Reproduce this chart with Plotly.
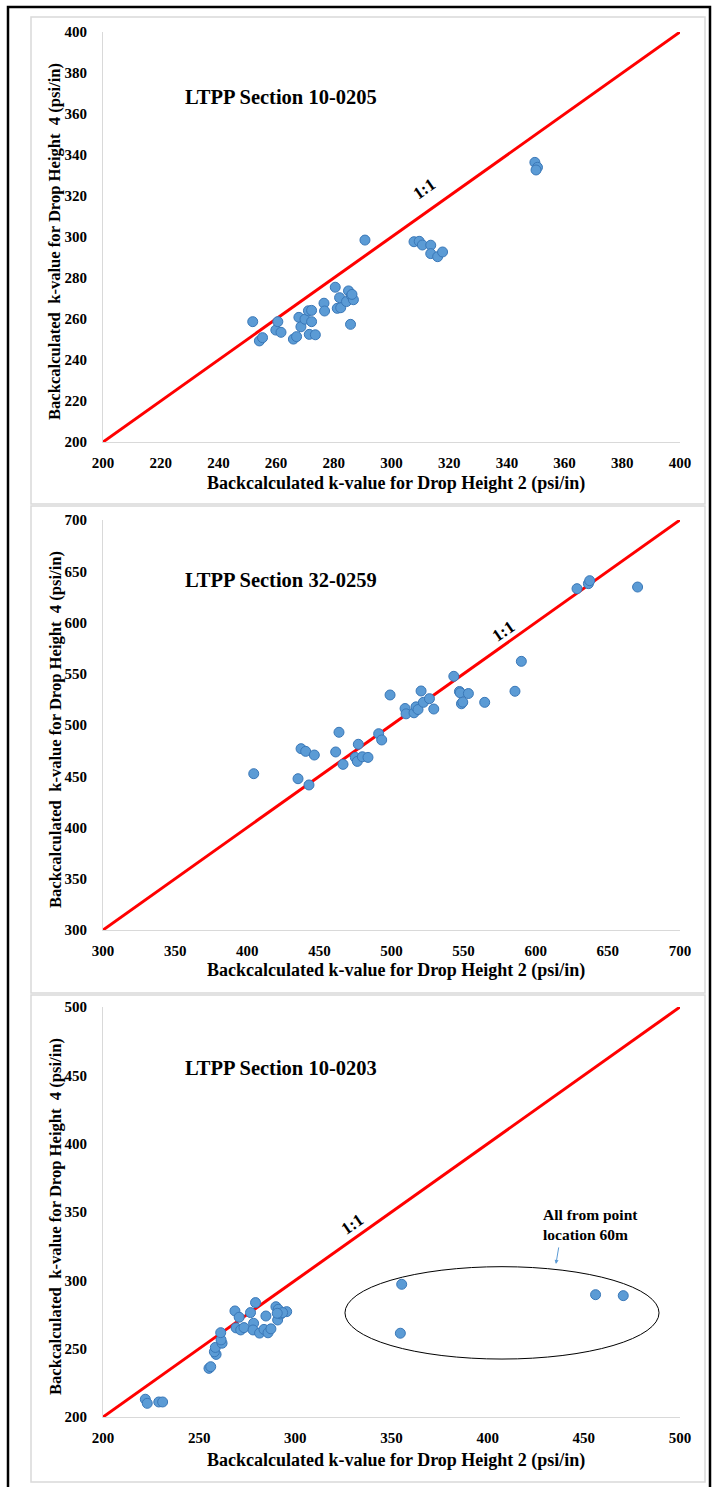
import plotly.graph_objects as go

W, H = 712, 1487

# ---------------- DATA ----------------
p1_x = [251.9, 254.2, 255.3, 259.9, 260.6, 261.7, 266.0, 267.1, 267.9, 268.6, 270.0,
        271.2, 272.3, 272.3, 271.5, 273.6, 276.6, 276.8, 280.5, 281.2, 282.4, 282.0,
        284.4, 285.1, 286.1, 286.8, 286.3, 285.8, 290.8, 307.8, 309.6, 310.7, 313.6,
        313.6, 316.0, 317.7, 349.7, 350.6, 350.1]
p1_y = [258.7, 249.3, 250.9, 254.6, 258.7, 253.5, 250.2, 251.4, 260.8, 256.2, 259.9,
        264.0, 264.2, 258.7, 252.5, 252.3, 267.7, 263.9, 275.5, 265.2, 265.5, 270.4,
        268.5, 273.7, 271.4, 269.4, 272.0, 257.4, 298.5, 297.7, 297.9, 296.1, 296.0,
        291.9, 290.4, 292.7, 336.4, 334.0, 332.7]

p2_x = [404.5, 435.2, 442.8, 437.3, 440.5, 446.5, 461.3, 463.6, 466.4, 477.0, 474.9,
        476.3, 479.8, 483.7, 491.1, 493.2, 499.0, 509.4, 510.1, 515.6, 517.0, 518.4,
        520.5, 522.1, 526.3, 529.3, 543.2, 547.1, 547.6, 553.3, 548.5, 549.4, 564.6,
        585.6, 590.0, 628.6, 636.5, 637.4, 670.6]
p2_y = [452.5, 447.6, 441.5, 476.9, 474.3, 470.7, 473.7, 492.9, 461.6, 481.2, 468.4,
        464.5, 469.0, 468.4, 491.5, 485.4, 529.3, 516.1, 510.9, 511.9, 517.7, 515.1,
        533.2, 522.1, 525.7, 515.6, 547.5, 532.7, 531.4, 530.7, 520.7, 522.3, 522.1,
        532.9, 562.1, 633.0, 637.9, 640.8, 634.6]

p3_x = [222.0, 223.0, 229.0, 231.0, 255.1, 256.0, 258.8, 257.9, 258.4, 261.9, 261.4,
        261.2, 268.6, 270.8, 269.2, 271.6, 273.3, 276.7, 279.3, 278.3, 278.0, 281.4,
        283.7, 285.8, 287.3, 284.7, 289.9, 291.1, 290.8, 292.5, 295.5, 293.4, 290.6,
        355.3, 354.6, 456.1, 470.5]
p3_y = [213.0, 210.0, 211.0, 211.0, 235.6, 236.8, 245.8, 247.7, 250.9, 254.0, 256.4,
        261.7, 277.6, 273.0, 265.2, 263.7, 265.4, 276.4, 283.7, 268.6, 263.7, 261.4,
        264.1, 261.6, 264.5, 273.9, 280.7, 278.8, 271.0, 275.4, 277.1, 276.4, 275.9,
        297.1, 261.3, 289.5, 288.8]

titles = ["LTPP Section 10-0205", "LTPP Section 32-0259", "LTPP Section 10-0203"]
ranges = [(200, 400), (300, 700), (200, 500)]
dticks = [(20, 20), (50, 50), (50, 50)]
x_title = "Backcalculated k-value for Drop Height 2 (psi/in)"
y_title = "Backcalculated  k-value for Drop Height  4 (psi/in)"
note_text = "All from point<br>location 60m"

# ---------------- LAYOUT (pixels) ----------------
plot_left, plot_right = 103, 680
plot_tops = [32, 520, 1007]
plot_bots = [442, 930, 1417]
box_tops = [17, 506, 995]
box_bots = [504, 993, 1482]

def px(x):
    return x / W

def py(y):
    return 1 - y / H

FONT = "Liberation Serif"
MARK_FILL = "#5B9BD5"
MARK_LINE = "#3A78B8"

fig = go.Figure()
series = [(p1_x, p1_y), (p2_x, p2_y), (p3_x, p3_y)]
annotations = []
shapes = []

for i in range(3):
    n = "" if i == 0 else str(i + 1)
    xa, ya = "x" + n, "y" + n
    lo, hi = ranges[i]
    fig.add_trace(go.Scatter(x=[lo, hi], y=[lo, hi], mode="lines",
                             line=dict(color="#FF0000", width=3),
                             xaxis=xa, yaxis=ya, showlegend=False, hoverinfo="skip"))
    sx, sy = series[i]
    fig.add_trace(go.Scatter(x=sx, y=sy, mode="markers",
                             marker=dict(size=10, color=MARK_FILL,
                                         line=dict(color=MARK_LINE, width=1)),
                             xaxis=xa, yaxis=ya, showlegend=False))
    axis_common = dict(showgrid=False, zeroline=False, showline=True, automargin=False,
                       linecolor="#D9D9D9", linewidth=1, ticks="",
                       tickfont=dict(family=FONT, size=15, color="black", weight="bold"))
    fig.update_layout(**{
        "xaxis" + n: dict(domain=[px(plot_left), px(plot_right)], range=[lo, hi],
                          dtick=dticks[i][0], tick0=lo, anchor=ya,
                          ticklabelstandoff=7, **axis_common),
        "yaxis" + n: dict(domain=[py(plot_bots[i]), py(plot_tops[i])], range=[lo, hi],
                          dtick=dticks[i][1], tick0=lo, anchor=xa,
                          ticklabelstandoff=12, **axis_common),
    })
    # panel box
    shapes.append(dict(type="rect", xref="paper", yref="paper",
                       x0=px(31), x1=px(705), y0=py(box_bots[i]), y1=py(box_tops[i]),
                       line=dict(color="#D9D9D9", width=1.5), layer="below"))
    # titles
    annotations.append(dict(xref="paper", yref="paper", x=px(183),
                            y=py([97, 580, 1068][i]), xanchor="left", yanchor="middle",
                            text=titles[i], showarrow=False,
                            font=dict(family=FONT, size=20.5, color="black", weight="bold")))
    # axis titles
    annotations.append(dict(xref="paper", yref="paper", x=px(396),
                            y=py([483, 970, 1460][i]), xanchor="center", yanchor="middle",
                            text=x_title, showarrow=False,
                            font=dict(family=FONT, size=18, color="black", weight="bold")))
    annotations.append(dict(xref="paper", yref="paper", x=px(55),
                            y=py((plot_tops[i] + plot_bots[i]) / 2 + 5), xanchor="center",
                            yanchor="middle", textangle=-90, text=y_title, showarrow=False,
                            font=dict(family=FONT, size=16.6, color="black", weight="bold")))

# 1:1 labels
for (n, x, y) in [("", 311.6, 323.5), ("2", 577.3, 591.5), ("3", 329.5, 341.0)]:
    annotations.append(dict(xref="x" + n, yref="y" + n, x=x, y=y, text="1:1",
                            textangle=-35, showarrow=False,
                            font=dict(family=FONT, size=17, color="black", weight="bold")))

# ellipse and note on panel 3
shapes.append(dict(type="circle", xref="x3", yref="y3", x0=325.8, x1=489.1,
                   y0=242.4, y1=310.0, line=dict(color="black", width=1)))
annotations.append(dict(xref="x3", yref="y3", x=453.5, y=341.2, text=note_text,
                        showarrow=False, align="left",
                        font=dict(family=FONT, size=15.5, color="black", weight="bold")))
annotations.append(dict(xref="x3", yref="y3", x=435.5, y=312.0, ax=3, ay=-18, text="",
                        showarrow=True, arrowhead=2, arrowsize=0.8, arrowwidth=1,
                        arrowcolor=MARK_FILL))

# outer black frame
shapes.append(dict(type="rect", xref="paper", yref="paper",
                   x0=px(8), x1=px(710), y0=py(1500), y1=py(7),
                   line=dict(color="black", width=2.5)))

fig.update_layout(width=W, height=H, margin=dict(l=0, r=0, t=0, b=0),
                  paper_bgcolor="white", plot_bgcolor="white",
                  annotations=annotations, shapes=shapes, showlegend=False)

fig.write_html("out.html")
